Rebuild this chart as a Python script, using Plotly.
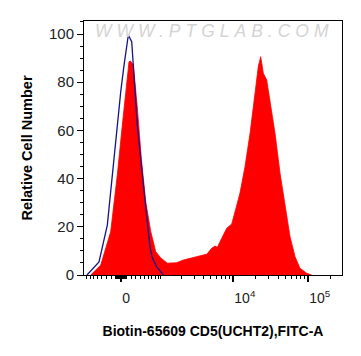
import numpy as np
import plotly.graph_objects as go

# Biexponential-like display scale: u = asinh(v/c)/ln10 + log10(c/2)
C_BIEX = 642.0

def biex(v):
    v = np.asarray(v, dtype=float)
    return np.arcsinh(v / C_BIEX) / np.log(10) + np.log10(C_BIEX / 2)

# Sample (red, filled) histogram: x in display units (biex scale), y = relative count
red_x = [2.103, 2.236, 2.369, 2.457, 2.524, 2.569, 2.613, 2.633, 2.671, 2.724, 2.777,
         2.836, 2.903, 2.969, 3.036, 3.124, 3.249, 3.337, 3.471, 3.604, 3.649, 3.716,
         3.760, 3.791, 3.849, 3.916, 3.983, 4.040, 4.093, 4.160, 4.227, 4.293, 4.337,
         4.369, 4.404, 4.449, 4.493, 4.560, 4.627, 4.693, 4.760, 4.827, 4.893, 4.983, 5.049]
red_y = [0.0, 4.1, 18.0, 41.5, 62.2, 76.0, 88.5, 88.8, 87.1, 69.3, 48.5,
         30.4, 18.0, 9.7, 7.1, 4.9, 5.1, 6.2, 7.4, 8.3, 8.6, 11.1,
         12.0, 11.5, 15.2, 19.4, 21.2, 28.4, 34.0, 45.0, 58.8, 75.4, 86.5,
         90.6, 83.7, 80.9, 72.6, 58.8, 42.2, 28.4, 15.9, 7.6, 2.8, 0.7, 0.0]

# Control (blue line) histogram
blue_x = [2.053, 2.213, 2.324, 2.413, 2.503, 2.547, 2.604, 2.649, 2.680, 2.724,
          2.791, 2.857, 2.893, 2.924, 2.983, 3.071]
blue_y = [0.0, 5.4, 20.7, 48.5, 76.1, 87.1, 99.6, 96.8, 83.0, 62.2,
          41.5, 20.7, 11.7, 7.1, 3.4, 0.0]

# Axis ticks
x_major_vals = [0, 10000, 100000]
x_major_text = ["0", "10<sup>4</sup>", "10<sup>5</sup>"]
x_minor_vals = ([-k * 100 for k in range(1, 10)] + [-k * 10 for k in range(1, 10)]
                + [k * 10 for k in range(1, 10)] + [k * 100 for k in range(1, 11)]
                + [k * 1000 for k in range(2, 10)] + [k * 10000 for k in range(2, 10)]
                + [200000])
y_major_vals = [0, 20, 40, 60, 80, 100]

fig = go.Figure()
fig.add_trace(go.Scatter(x=red_x, y=red_y, mode="lines", fill="tozeroy",
                         fillcolor="#ff0000", line=dict(color="#ff0000", width=0.8),
                         hoverinfo="skip", showlegend=False))
fig.add_trace(go.Scatter(x=blue_x, y=blue_y, mode="lines",
                         line=dict(color="#14148c", width=1.3),
                         hoverinfo="skip", showlegend=False))

fig.add_annotation(text='<span style="letter-spacing:5px">WWW.PTGLAB.COM</span>',
                   xref="paper", yref="paper", x=0.505, y=0.96,
                   showarrow=False, xanchor="center", yanchor="middle",
                   font=dict(family="Liberation Sans, Arial", size=17.5, color="#d4d4d4",
                             style="italic"))

font_fam = "Liberation Sans, Arial, sans-serif"
fig.update_layout(
    width=361, height=356,
    margin=dict(l=76, r=27, t=13, b=89),
    paper_bgcolor="white", plot_bgcolor="white",
    xaxis=dict(range=[2.013, 5.453], tickmode="array",
               tickvals=list(biex(x_major_vals)), ticktext=x_major_text,
               ticklabelposition="outside right", ticklabelstandoff=10,
               ticks="outside", ticklen=6, tickwidth=1.5, tickcolor="black",
               showline=True, linecolor="black", linewidth=1, mirror=True,
               showgrid=False, zeroline=False,
               tickfont=dict(family=font_fam, size=14, color="#222"),
               minor=dict(tickmode="array", tickvals=list(biex(x_minor_vals)),
                          ticks="outside", ticklen=3, tickwidth=1, tickcolor="black"),
               title=dict(text="<b>Biotin-65609 CD5(UCHT2),FITC-A</b>", standoff=21,
                          font=dict(family=font_fam, size=14, color="black"))),
    yaxis=dict(range=[0, 105.4], tickmode="array", tickvals=y_major_vals,
               ticks="outside", ticklen=6, tickwidth=1, tickcolor="black",
               showline=True, linecolor="black", linewidth=1, mirror=True,
               showgrid=False, zeroline=False,
               tickfont=dict(family=font_fam, size=15, color="#222"),
               minor=dict(dtick=5, ticks="outside", ticklen=3, tickwidth=1, tickcolor="black"),
               title=dict(text="<b>Relative Cell Number</b>", standoff=12,
                          font=dict(family=font_fam, size=14.5, color="black"))),
)

fig.write_html("out.html")
